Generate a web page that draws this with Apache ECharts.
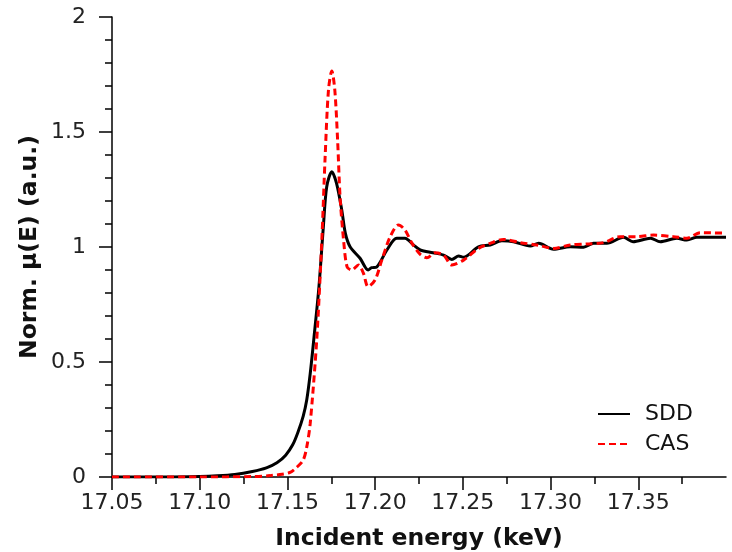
<!DOCTYPE html>
<html>
<head>
    <meta charset="utf-8">
    <script type="text/javascript" src="https://cdn.jsdelivr.net/npm/echarts@6/dist/echarts.min.js"></script>
    <title>XANES</title>
    <style>body{margin:0;background:#fff;}</style>
</head>
<body>
<div id="main" style="width:732px;height:552px;"></div>
<script type="text/javascript">
    // data
    var sddEnergy = [17.05, 17.08, 17.10, 17.11, 17.12, 17.13, 17.138, 17.144, 17.149, 17.153, 17.156, 17.159, 17.161, 17.163, 17.165, 17.168, 17.1705, 17.1724, 17.1753, 17.178, 17.181, 17.183, 17.1857, 17.1914, 17.196, 17.198, 17.201, 17.2067, 17.2123, 17.217, 17.2218, 17.2257, 17.233, 17.239, 17.2437, 17.2476, 17.2504, 17.2589, 17.2656, 17.2722, 17.2789, 17.2884, 17.2932, 17.3017, 17.3112, 17.3188, 17.3245, 17.3321, 17.3416, 17.347, 17.357, 17.3625, 17.372, 17.3777, 17.3834, 17.40];
    var sddMu = [0, 0, 0.002, 0.005, 0.011, 0.024, 0.04, 0.062, 0.095, 0.14, 0.195, 0.265, 0.335, 0.45, 0.596, 0.83, 1.09, 1.262, 1.327, 1.277, 1.16, 1.06, 1.001, 0.951, 0.90, 0.91, 0.914, 0.987, 1.038, 1.038, 1.009, 0.987, 0.975, 0.965, 0.946, 0.961, 0.955, 1.001, 1.009, 1.027, 1.023, 1.004, 1.016, 0.99, 1.001, 0.999, 1.016, 1.016, 1.042, 1.023, 1.038, 1.023, 1.038, 1.03, 1.042, 1.042];

    var casEnergy = [17.05, 17.10, 17.13, 17.14, 17.147, 17.1515, 17.155, 17.159, 17.161, 17.163, 17.1667, 17.1696, 17.1715, 17.1734, 17.1753, 17.177, 17.1786, 17.18, 17.182, 17.184, 17.1867, 17.1905, 17.1933, 17.196, 17.20, 17.2038, 17.2086, 17.2133, 17.217, 17.221, 17.2257, 17.2295, 17.2342, 17.239, 17.2437, 17.2504, 17.2589, 17.2656, 17.2732, 17.2827, 17.2922, 17.3017, 17.3112, 17.3207, 17.3302, 17.3397, 17.3492, 17.3587, 17.37, 17.3777, 17.3853, 17.40];
    var casMu = [0, 0, 0.002, 0.006, 0.012, 0.02, 0.04, 0.074, 0.13, 0.234, 0.596, 1.03, 1.393, 1.683, 1.765, 1.683, 1.465, 1.219, 1.03, 0.914, 0.90, 0.922, 0.886, 0.828, 0.857, 0.943, 1.045, 1.096, 1.074, 1.016, 0.968, 0.953, 0.975, 0.965, 0.922, 0.943, 0.994, 1.016, 1.033, 1.019, 1.009, 0.994, 1.009, 1.013, 1.019, 1.045, 1.045, 1.052, 1.045, 1.038, 1.062, 1.06];

    var xTicks = [17.05, 17.10, 17.15, 17.20, 17.25, 17.30, 17.35];

    function pairs(xs, ys) {
        var out = [];
        for (var i = 0; i < xs.length; i++) {
            out.push([xs[i], ys[i]]);
        }
        return out;
    }

    var myChart = echarts.init(document.getElementById('main'));
    var font = 'DejaVu Sans';
    var option = {
        animation: false,
        textStyle: { fontFamily: font },
        grid: { left: 112, right: 6, top: 17, bottom: 75, containLabel: false, outerBoundsMode: 'none' },
        legend: {
            orient: 'vertical',
            left: 592,
            top: 398,
            itemWidth: 32,
            itemHeight: 2,
            itemGap: 8,
            textStyle: { fontFamily: font, fontSize: 22, color: '#111', padding: [0, 0, 0, 10] },
            data: ['SDD', 'CAS']
        },
        xAxis: {
            type: 'value',
            min: 17.05,
            max: 17.40,
            interval: 0.05,
            name: 'Incident energy (keV)',
            nameLocation: 'middle',
            nameGap: 50,
            nameMoveOverlap: false,
            nameTextStyle: { fontFamily: font, fontSize: 23.5, fontWeight: 'bold', color: '#111' },
            axisLine: { lineStyle: { color: '#000', width: 1.5 } },
            axisTick: { show: true, inside: false, length: 13, customValues: xTicks, lineStyle: { color: '#000', width: 1.5 } },
            minorTick: { show: true, splitNumber: 2, length: 7, lineStyle: { color: '#000', width: 1.5 } },
            axisLabel: {
                customValues: xTicks,
                fontSize: 22, color: '#222', margin: 15,
                formatter: function (v) { return v.toFixed(2); }
            },
            splitLine: { show: false }
        },
        yAxis: {
            type: 'value',
            min: 0,
            max: 2,
            interval: 0.5,
            name: 'Norm. μ(E) (a.u.)',
            nameLocation: 'middle',
            nameGap: 70,
            nameMoveOverlap: false,
            nameTextStyle: { fontFamily: font, fontSize: 23.5, fontWeight: 'bold', color: '#111' },
            axisLine: { show: true, lineStyle: { color: '#000', width: 1.5 } },
            axisTick: { show: true, length: 13, lineStyle: { color: '#000', width: 1.5 } },
            minorTick: { show: true, splitNumber: 5, length: 7, lineStyle: { color: '#000', width: 1.5 } },
            axisLabel: { fontSize: 22, color: '#222', margin: 26 },
            splitLine: { show: false }
        },
        series: [{
            name: 'SDD',
            type: 'line',
            showSymbol: false,
            symbol: 'none',
            smooth: 0.3,
            data: pairs(sddEnergy, sddMu),
            itemStyle: { color: '#000' },
            lineStyle: { color: '#000', width: 3 }
        }, {
            name: 'CAS',
            type: 'line',
            showSymbol: false,
            symbol: 'none',
            smooth: 0.3,
            data: pairs(casEnergy, casMu),
            itemStyle: { color: '#ff0000' },
            lineStyle: { color: '#ff0000', width: 3, type: [7, 4] }
        }]
    };
    myChart.setOption(option);
</script>
</body>
</html>
